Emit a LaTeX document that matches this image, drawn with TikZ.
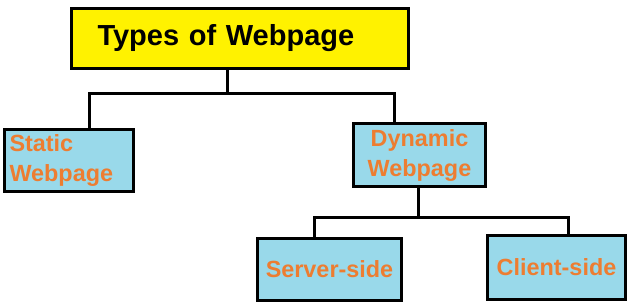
\documentclass[tikz,border=0pt]{standalone}
\usepackage{fontspec}
\setmainfont{Liberation Sans}
\definecolor{titleyellow}{RGB}{255, 242, 0}
\definecolor{boxblue}{RGB}{153, 217, 234}
\definecolor{textorange}{RGB}{237, 125, 49}

\begin{document}
\begin{tikzpicture}[
			x=1pt, y=-1pt,
			titlebox/.style={draw=black, line width=3pt, fill=titleyellow, rectangle, minimum width=337pt, minimum height=60pt, inner xsep=26pt, text width=285pt, align=left, font=\fontsize{29}{35}\selectfont\bfseries},
			typebox/.style={draw=black, line width=3pt, fill=boxblue, rectangle, minimum height=62pt, inner sep=0pt, align=center, text=textorange, font=\fontsize{23.4}{30}\selectfont\bfseries},
			line/.style={draw=black, line width=3pt}
			]
			\useasboundingbox (0,0) rectangle (631,305);
			
			% Titolo
			\node[titlebox] (title) at (240,38.5) {Types of Webpage};
			
			% Primo livello
			\node[typebox, minimum width=129pt, inner xsep=5pt, text width=119pt, align=left] (static) at (69,160.5) {Static\\Webpage};
			\node[typebox, minimum width=132pt, minimum height=63pt] (dynamic) at (419.5,155) {Dynamic\\Webpage};
			
			% Secondo livello
			\node[typebox, minimum width=144pt] (server) at (329.5,269.5) {Server-side};
			\node[typebox, minimum width=138pt, minimum height=64pt] (client) at (556.5,267.5) {Client-side};
			
			% Collegamenti
			\coordinate (joinA) at (227,93);
			\coordinate (legL) at (89,93);
			\coordinate (legR) at (394,93);
			\draw[line] (title.south -| joinA) -- (joinA);
			\draw[line] (static.north -| legL) -- (legL) -- (legR) -- (dynamic.north -| legR);
			
			\coordinate (joinB) at (418,217);
			\coordinate (legS) at (314,217);
			\coordinate (legC) at (568,217);
			\draw[line] (dynamic.south -| joinB) -- (joinB);
			\draw[line] (server.north -| legS) -- (legS) -- (legC) -- (client.north -| legC);
			
		\end{tikzpicture}
\end{document}
